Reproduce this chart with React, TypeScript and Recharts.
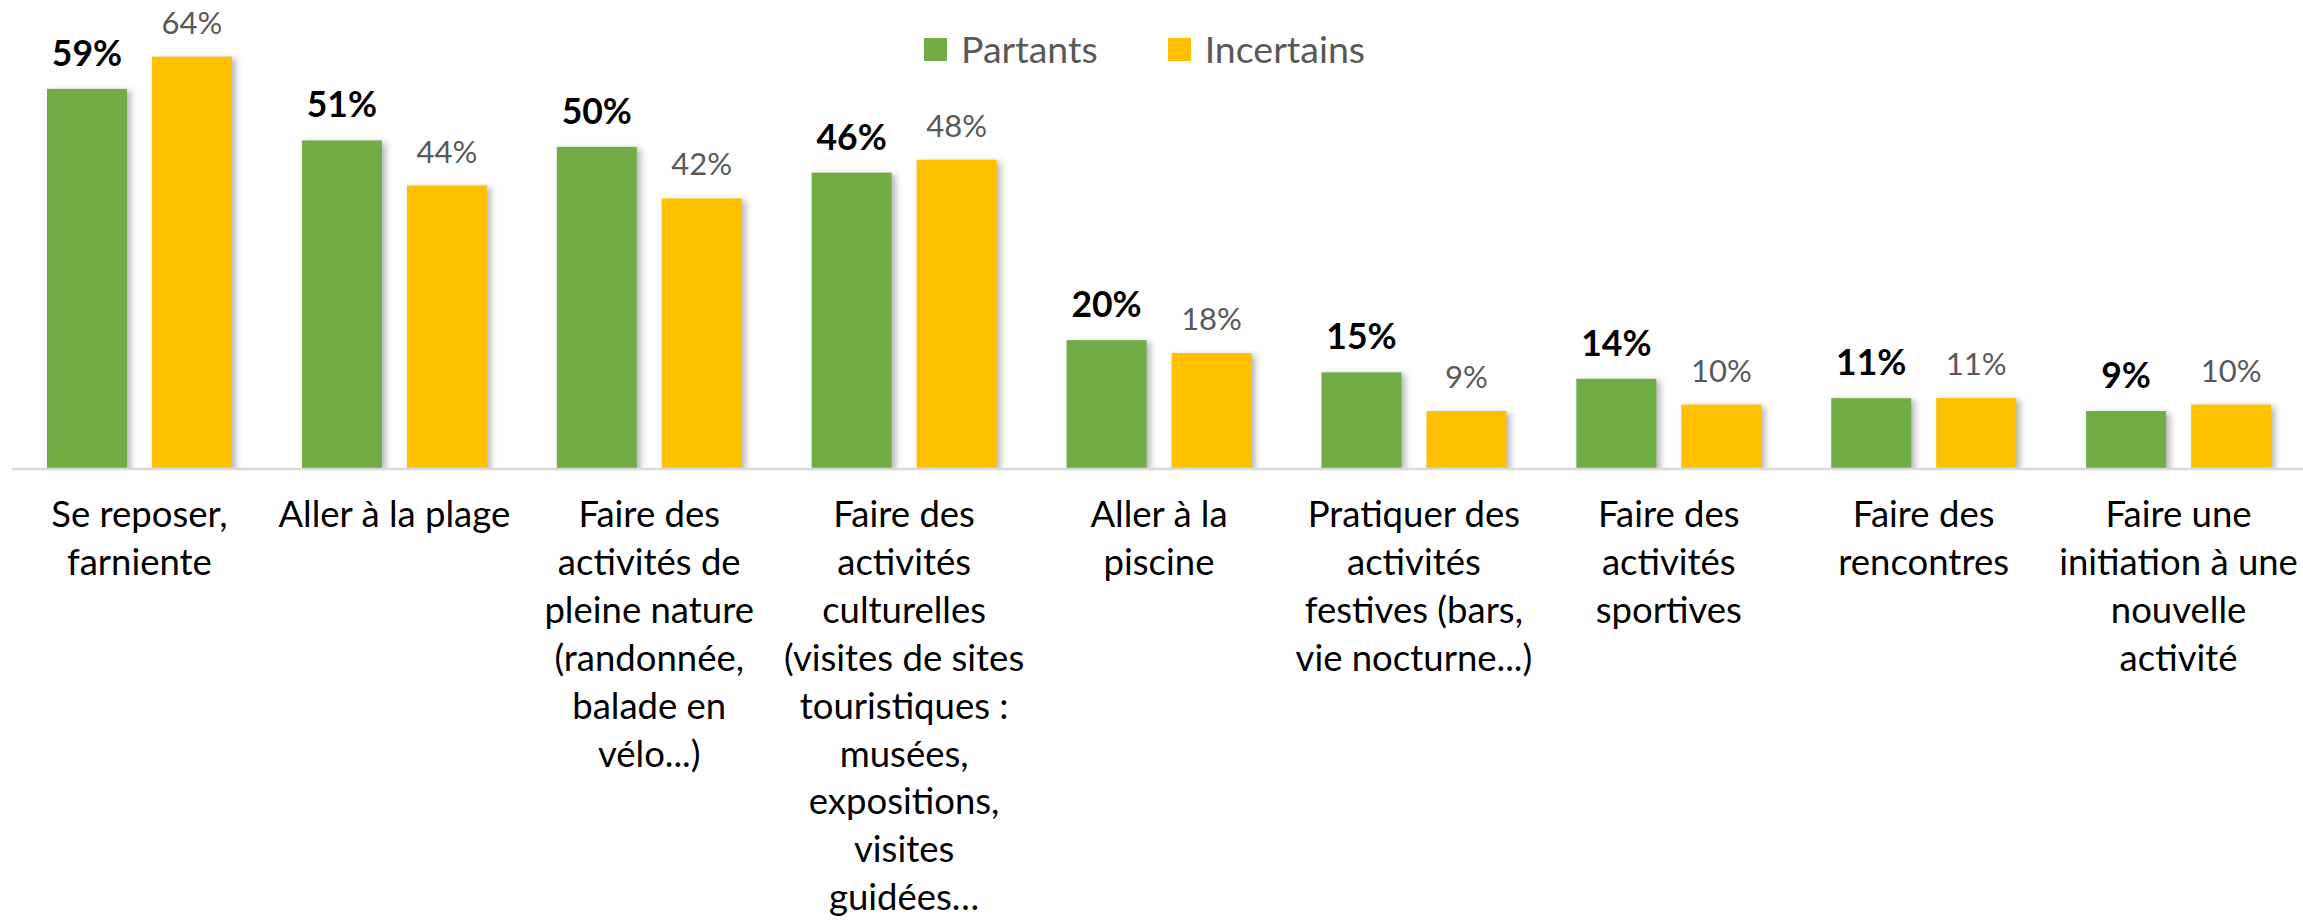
import React from 'react';
import { BarChart, Bar, XAxis, YAxis, Legend, LabelList } from 'recharts';

const categories = [
  'Se reposer, farniente',
  'Aller à la plage',
  'Faire des activités de pleine nature (randonnée, balade en vélo...)',
  'Faire des activités culturelles (visites de sites touristiques : musées, expositions, visites guidées…',
  'Aller à la piscine',
  'Pratiquer des activités festives (bars, vie nocturne...)',
  'Faire des activités sportives',
  'Faire des rencontres',
  'Faire une initiation à une nouvelle activité',
];

const tickLines = [
  ['Se reposer,', 'farniente'],
  ['Aller à la plage'],
  ['Faire des', 'activités de', 'pleine nature', '(randonnée,', 'balade en', 'vélo...)'],
  ['Faire des', 'activités', 'culturelles', '(visites de sites', 'touristiques :', 'musées,', 'expositions,', 'visites', 'guidées…'],
  ['Aller à la', 'piscine'],
  ['Pratiquer des', 'activités', 'festives (bars,', 'vie nocturne...)'],
  ['Faire des', 'activités', 'sportives'],
  ['Faire des', 'rencontres'],
  ['Faire une', 'initiation à une', 'nouvelle', 'activité'],
];

const partants = [59, 51, 50, 46, 20, 15, 14, 11, 9];
const incertains = [64, 44, 42, 48, 18, 9, 10, 11, 10];
const seriesNames = ['Partants', 'Incertains'];
const seriesColors = ['#70AD47', '#FFC000'];

const data = categories.map((c, i) => ({
  name: c,
  partants: partants[i],
  incertains: incertains[i],
}));

const FONT = 'Lato, "Noto Sans", sans-serif';

const Tick = (props: any) => {
  const { x, y, payload } = props;
  const idx = categories.indexOf(payload.value);
  const lines = tickLines[idx] || [];
  return (
    <text x={x} y={y + 58} textAnchor="middle" fontFamily={FONT} fontSize={36.5} fill="#000">
      {lines.map((l, i) => (
        <tspan key={i} x={x} dy={i === 0 ? 0 : 47.9}>
          {l}
        </tspan>
      ))}
    </text>
  );
};

const ShadowRect = (props: any) => {
  const { x, y, width, height, fill } = props;
  if (!height || height <= 0) return null;
  return (
    <rect
      x={x}
      y={y}
      width={width}
      height={height}
      fill={fill}
      style={{ filter: 'drop-shadow(4px 2px 3px rgba(0,0,0,0.28))' }}
    />
  );
};

const makeLabel = (bold: boolean) => (props: any) => {
  const vb = props.viewBox || {};
  const x = props.x ?? vb.x;
  const y = props.y ?? vb.y;
  const width = props.width ?? vb.width;
  return (
    <text
      x={x + width / 2}
      y={y - 23}
      textAnchor="middle"
      fontFamily={FONT}
      fontSize={bold ? 35.5 : 31}
      fontWeight={bold ? 700 : 400}
      fill={bold ? '#000' : '#595959'}
    >
      {props.value}%
    </text>
  );
};

const LegendContent = () => (
  <div
    style={{
      display: 'flex',
      alignItems: 'center',
      height: 40,
      fontFamily: FONT,
      fontSize: 37.5,
      color: '#595959',
      lineHeight: '40px',
      whiteSpace: 'nowrap',
    }}
  >
    {seriesNames.map((n, i) => (
      <div key={n} style={{ display: 'flex', alignItems: 'center', marginRight: i === 0 ? 70 : 0 }}>
        <div style={{ width: 23, height: 23, background: seriesColors[i], marginRight: 14 }} />
        <span>{n}</span>
      </div>
    ))}
  </div>
);

export default function App() {
  return (
    <div style={{ position: 'absolute', left: 0, top: 0, width: 2303, height: 922, overflow: 'hidden', background: '#fff' }}>
      <BarChart
        width={2306}
        height={922}
        data={data}
        margin={{ top: 18, right: 0, left: 12, bottom: 0 }}
        barSize={80}
        barGap={25}
      >
        <XAxis
          dataKey="name"
          interval={0}
          tickLine={false}
          tickSize={0}
          tickMargin={0}
          height={453}
          axisLine={{ stroke: '#D9D9D9', strokeWidth: 2.5 }}
          tick={<Tick />}
        />
        <YAxis hide domain={[0, 70]} allowDataOverflow />
        <Legend
          verticalAlign="top"
          align="left"
          content={<LegendContent />}
          wrapperStyle={{ top: 29, left: 924, height: 0, width: 700 }}
        />
        <Bar dataKey="partants" name={seriesNames[0]} fill={seriesColors[0]} isAnimationActive={false} shape={<ShadowRect />}>
          <LabelList dataKey="partants" content={makeLabel(true)} />
        </Bar>
        <Bar dataKey="incertains" name={seriesNames[1]} fill={seriesColors[1]} isAnimationActive={false} shape={<ShadowRect />}>
          <LabelList dataKey="incertains" content={makeLabel(false)} />
        </Bar>
      </BarChart>
    </div>
  );
}
